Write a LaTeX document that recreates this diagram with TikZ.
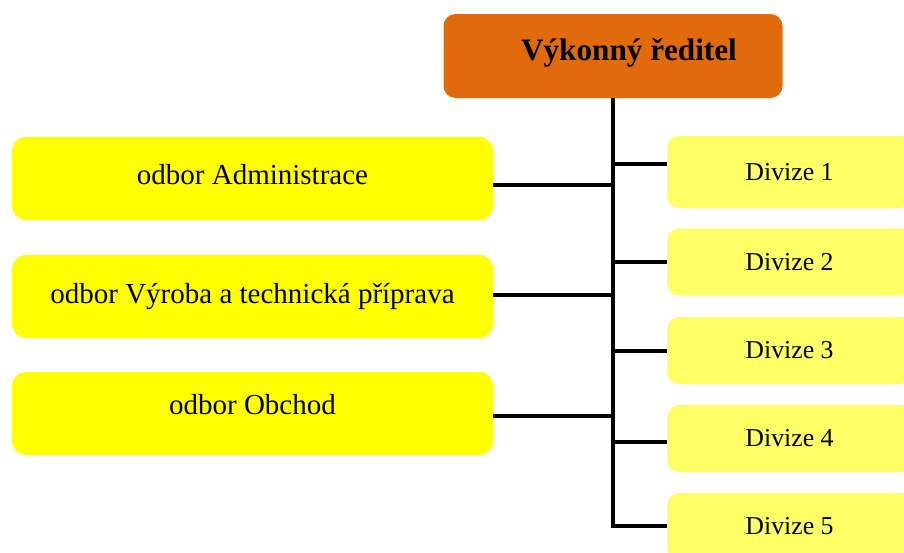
\documentclass[tikz,border=0pt]{standalone}
\usepackage{fontspec}
\setmainfont{Liberation Serif}
\usetikzlibrary{positioning}
\definecolor{vedeni}{RGB}{225,106,12}
\definecolor{odborzluta}{RGB}{255,255,0}
\definecolor{divizezluta}{RGB}{255,255,102}

\begin{document}
\begin{tikzpicture}[x=0.5pt, y=-0.5pt,
    reditel/.style={fill=vedeni, rounded corners=6pt, minimum width=169.5pt, minimum height=42pt},
    odbor/.style={fill=odborzluta, rounded corners=7pt, minimum width=240.5pt, minimum height=41.5pt, font=\fontsize{14.5}{17}\selectfont},
    divize/.style={fill=divizezluta, rounded corners=6pt, minimum width=122.5pt, minimum height=33.5pt, font=\fontsize{12.9}{15}\selectfont},
    spoj/.style={line width=2.1pt}]
                \clip (0,0) rectangle (904,552);
                \node[reditel, label={[xshift=8pt, yshift=1.5pt, font=\bfseries\fontsize{15.6}{18}\selectfont]center:Výkonný ředitel}] (ceo) at (613,56) {};
                \node[odbor, label={[yshift=2pt, font=\fontsize{14.5}{17}\selectfont]center:odbor Administrace}] (adm) at (252.5,178.5) {};
                \node[odbor] (vyr) at (252.5,296.5) {odbor Výroba a technická příprava};
                \node[odbor, label={[yshift=4.5pt, font=\fontsize{14.5}{17}\selectfont]center:odbor Obchod}] (obch) at (252.5,413.5) {};
                \node[divize, minimum height=36pt] (d1) at (789.5,172) {Divize 1};
                \node[divize] (d2) at (789.5,262) {Divize 2};
                \node[divize] (d3) at (789.5,350.5) {Divize 3};
                \node[divize] (d4) at (789.5,438.5) {Divize 4};
                \node[divize] (d5) at (789.5,526.5) {Divize 5};
                % odbocky z hlavni linky
                \coordinate (ja) at (613,185);
                \coordinate (jv) at (613,295);
                \coordinate (jo) at (613,416);
                \coordinate (j1) at (613,164);
                \coordinate (j2) at (613,262);
                \coordinate (j3) at (613,351);
                \coordinate (j4) at (613,442);
                \coordinate (j5) at (613,526);
                \draw[spoj] (ceo.south) -- (j5) -- (j5 -| d5.west);
                \draw[spoj] (ja) -- (ja -| adm.east);
                \draw[spoj] (jv) -- (jv -| vyr.east);
                \draw[spoj] (jo) -- (jo -| obch.east);
                \draw[spoj] (j1) -- (j1 -| d1.west);
                \draw[spoj] (j2) -- (j2 -| d2.west);
                \draw[spoj] (j3) -- (j3 -| d3.west);
                \draw[spoj] (j4) -- (j4 -| d4.west);
\end{tikzpicture}
\end{document}
